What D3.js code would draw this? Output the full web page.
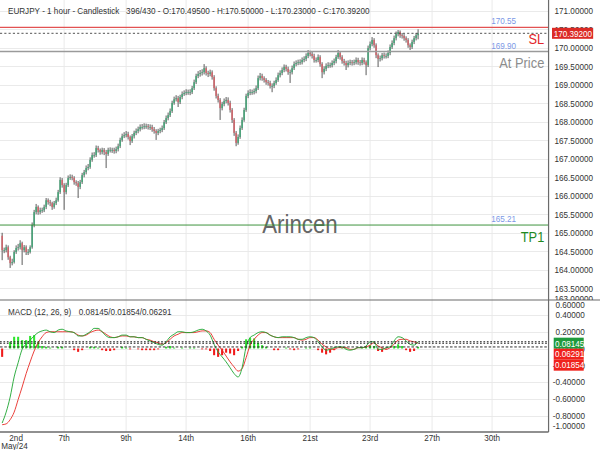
<!DOCTYPE html>
<html>
<head>
<meta charset="utf-8">
<script src="https://cdn.jsdelivr.net/npm/d3@7"></script>
<style>
  body { margin: 0; background: #fff; }
  svg { display: block; font-family: "Liberation Sans", Arial, sans-serif; }
</style>
</head>
<body>
<div id="chart"></div>
<script>
// EURJPY candles, one per 2 hours (open = previous close)
var firstOpen = 164.92;
var close = [
  164.53,164.53,164.61,164.34,164.18,164.21,164.48,164.59,164.61,164.72,
  164.53,164.61,164.48,164.48,164.61,165.21,165.56,165.70,165.56,165.61,
  165.61,165.70,165.88,165.83,165.80,165.70,165.80,165.88,166.10,166.43,
  166.29,166.10,166.29,166.48,166.51,166.48,166.37,166.34,166.24,166.37,
  166.56,166.64,166.75,166.78,166.97,167.10,167.10,167.29,167.24,167.18,
  167.24,167.18,167.13,167.24,167.24,167.24,167.21,167.26,167.34,167.51,
  167.61,167.64,167.67,167.59,167.48,167.61,167.70,167.75,167.80,167.86,
  167.86,167.88,167.88,167.86,167.86,167.80,167.75,167.70,167.75,167.78,
  167.83,167.99,168.10,168.18,168.29,168.51,168.61,168.64,168.53,168.67,
  168.75,168.78,168.80,168.80,168.80,168.91,169.07,169.24,169.29,169.32,
  169.34,169.45,169.32,169.29,169.34,169.21,168.91,168.70,168.59,168.37,
  168.48,168.56,168.59,168.51,168.32,168.05,167.70,167.43,167.59,167.83,
  168.05,168.32,168.70,168.78,168.80,168.80,168.83,168.91,169.18,169.24,
  169.18,169.13,169.07,169.05,168.97,168.97,169.05,169.13,169.26,169.32,
  169.40,169.48,169.43,169.34,169.34,169.45,169.56,169.59,169.61,169.61,
  169.67,169.70,169.78,169.86,169.83,169.78,169.67,169.67,169.75,169.56,
  169.34,169.43,169.51,169.53,169.53,169.59,169.64,169.75,169.86,169.75,
  169.64,169.59,169.53,169.59,169.61,169.59,169.61,169.67,169.61,169.59,
  169.67,169.61,169.53,169.99,170.10,170.21,170.07,169.80,169.70,169.72,
  169.80,169.78,169.78,169.86,170.02,170.13,170.26,170.37,170.43,170.34,
  170.32,170.26,170.21,170.07,170.02,170.16,170.26,170.34,170.392
];
var high = [
  165.00,164.60,164.68,164.66,164.38,164.30,164.53,164.66,164.70,164.80,
  164.76,164.67,164.66,164.56,164.66,165.28,165.62,165.78,165.74,165.68,
  165.68,165.76,165.94,165.93,165.89,165.84,165.86,165.95,166.16,166.50,
  166.48,166.34,166.35,166.55,166.58,166.57,166.53,166.42,166.40,166.43,
  166.62,166.70,166.82,166.86,167.04,167.17,167.18,167.36,167.35,167.28,
  167.30,167.29,167.24,167.30,167.31,167.30,167.30,167.33,167.41,167.57,
  167.68,167.72,167.75,167.73,167.63,167.67,167.76,167.82,167.87,167.93,
  167.94,167.96,167.95,167.94,167.93,167.92,167.86,167.80,167.81,167.84,
  167.90,168.05,168.17,168.25,168.36,168.57,168.68,168.72,168.70,168.73,
  168.82,168.85,168.88,168.87,168.88,168.97,169.14,169.30,169.37,169.40,
  169.42,169.56,169.50,169.38,169.41,169.39,169.26,168.96,168.76,168.64,
  168.54,168.63,168.67,168.66,168.57,168.37,168.10,167.75,167.66,167.90,
  168.12,168.38,168.76,168.85,168.88,168.87,168.90,168.98,169.25,169.32,
  169.30,169.23,169.18,169.13,169.11,169.04,169.11,169.20,169.33,169.39,
  169.47,169.55,169.54,169.49,169.41,169.52,169.63,169.66,169.68,169.69,
  169.74,169.77,169.85,169.94,169.92,169.89,169.84,169.74,169.82,169.80,
  169.61,169.50,169.58,169.61,169.60,169.66,169.71,169.81,169.94,169.90,
  169.80,169.70,169.65,169.66,169.68,169.67,169.68,169.74,169.73,169.67,
  169.74,169.73,169.66,170.06,170.17,170.29,170.26,170.12,169.85,169.79,
  169.86,169.87,169.85,169.93,170.09,170.20,170.33,170.44,170.48,170.47,
  170.40,170.37,170.31,170.26,170.12,170.22,170.32,170.40,170.50
];
var low = [
  164.26,164.45,164.47,164.27,164.05,164.12,164.17,164.43,164.52,164.55,
  164.13,164.47,164.40,164.40,164.44,164.57,165.15,165.50,165.49,165.50,
  165.54,165.56,165.64,165.76,165.72,165.62,165.65,165.75,165.84,166.05,
  166.22,165.62,166.04,166.24,166.43,166.42,166.30,166.27,165.94,166.18,
  166.32,166.50,166.58,166.69,166.73,166.92,167.03,167.05,167.17,167.11,
  167.12,167.10,166.75,167.08,167.17,167.16,167.14,167.15,167.20,167.29,
  167.46,167.56,167.58,167.52,167.37,167.43,167.55,167.64,167.69,167.74,
  167.79,167.80,167.81,167.79,167.78,167.73,167.68,167.51,167.64,167.69,
  167.72,167.78,167.94,168.04,168.13,168.24,168.46,168.55,168.40,168.48,
  168.61,168.70,168.72,168.73,168.72,168.75,168.86,169.02,169.18,169.22,
  169.25,169.28,169.25,169.21,169.23,169.14,168.84,168.63,168.52,168.05,
  168.31,168.42,168.50,168.44,168.25,167.97,167.62,167.34,167.38,167.54,
  167.78,168.00,168.27,168.64,168.72,168.73,168.74,168.77,168.86,169.12,
  169.11,169.06,169.00,168.98,168.90,168.80,168.91,169.00,169.08,169.20,
  169.26,169.34,169.36,169.27,169.05,169.28,169.40,169.50,169.53,169.54,
  169.55,169.61,169.64,169.72,169.77,169.71,169.60,169.60,169.61,169.49,
  169.18,169.28,169.37,169.45,169.46,169.47,169.53,169.58,169.70,169.68,
  169.57,169.52,169.40,169.47,169.53,169.52,169.53,169.55,169.54,169.52,
  169.53,169.55,169.26,169.48,169.93,170.04,170.00,169.72,169.48,169.63,
  169.66,169.71,169.71,169.72,169.80,169.97,170.07,170.20,170.31,170.27,
  170.25,170.19,170.14,170.00,169.94,169.97,170.10,170.20,170.23
];

// MACD (12, 26, 9), read every 2nd candle
var macdLine = [
  -0.89,-0.76,-0.58,-0.34,-0.17,-0.01,0.05,0.10,0.15,0.19,
  0.21,0.22,0.20,0.19,0.22,0.23,0.21,0.20,0.19,0.15,
  0.15,0.17,0.20,0.24,0.24,0.20,0.15,0.13,0.13,0.14,
  0.16,0.16,0.14,0.14,0.13,0.13,0.11,0.09,0.07,0.05,
  0.04,0.08,0.14,0.17,0.20,0.20,0.19,0.19,0.20,0.22,
  0.23,0.21,0.16,0.05,-0.04,-0.10,-0.16,-0.23,-0.30,-0.34,
  -0.23,0.02,0.13,0.16,0.19,0.20,0.19,0.16,0.14,0.13,
  0.14,0.14,0.14,0.13,0.11,0.11,0.13,0.14,0.13,0.08,
  0.02,-0.02,-0.01,0.01,0.02,0.02,-0.01,-0.02,-0.01,0.01,
  0.01,0.03,0.08,0.08,-0.01,-0.01,0.01,0.02,0.09,0.14,
  0.13,0.09,0.05,0.04,0.08145
];
var signalLine = [
  -0.91,-0.90,-0.85,-0.76,-0.61,-0.46,-0.30,-0.16,-0.03,0.07,
  0.14,0.19,0.20,0.20,0.20,0.20,0.20,0.20,0.19,0.16,
  0.15,0.16,0.19,0.21,0.22,0.20,0.17,0.14,0.13,0.14,
  0.15,0.15,0.14,0.14,0.13,0.13,0.11,0.10,0.08,0.07,
  0.05,0.07,0.11,0.15,0.17,0.19,0.19,0.19,0.19,0.20,
  0.21,0.21,0.19,0.11,0.04,-0.02,-0.09,-0.16,-0.22,-0.27,
  -0.24,-0.11,0.04,0.11,0.16,0.19,0.19,0.16,0.14,0.13,
  0.13,0.13,0.13,0.13,0.11,0.10,0.11,0.13,0.13,0.10,
  0.05,0.02,-0.01,-0.01,0.01,0.01,0.01,-0.01,-0.01,0.01,
  0.01,0.02,0.04,0.07,0.03,0.01,-0.01,0.01,0.05,0.10,
  0.11,0.11,0.09,0.08,0.06291
];
var histogram = [
  -0.10,0,0.08,0.14,0.14,0.10,0.10,0.15,0.16,0.08,
  0.03,0.02,0.01,0,0.02,0.02,0,0,-0.02,-0.04,
  -0.02,0,0.02,0.02,0.01,-0.02,-0.03,-0.03,-0.02,0,
  0.02,0.01,-0.01,0,-0.01,-0.02,-0.02,-0.02,-0.02,-0.01,
  0,0.02,0.03,0.01,0,0.01,0,0.01,0.01,0,
  -0.01,-0.01,-0.03,-0.08,-0.10,-0.08,-0.05,-0.06,-0.08,-0.03,
  0.02,0.11,0.13,0.12,0.07,0.04,0.02,0,-0.02,-0.02,
  0,0.01,-0.01,-0.02,-0.01,0,0.01,0.01,0,-0.02,
  -0.05,-0.07,-0.05,-0.02,0,0.01,0.01,0,0,0,
  0.01,0.02,0.04,0.03,-0.03,-0.04,-0.01,0,0.03,0.05,
  0.03,-0.02,-0.04,-0.03,0.01854
];
var macdValues = { macd: 0.08145, hist: 0.01854, signal: 0.06291 };

// levels
var levels = [
  { name: "SL", value: 170.55, color: "#e25252", text: "#e3262b", width: 1.2 },
  { name: "At Price", value: 169.90, color: "#9a9a9a", text: "#8c8c8c", width: 1.5 },
  { name: "TP1", value: 165.21, color: "#2f8a2f", text: "#1f8a1f", width: 1 }
];

// axes
var priceTicks = [163.0,163.5,164.0,164.5,165.0,165.5,166.0,166.5,167.0,167.5,168.0,168.5,169.0,169.5,170.0,170.5,171.0];
var macdTicks = [-1.0,-0.8,-0.6,-0.4,-0.2,0.0,0.2,0.4,0.6];
var dateLabels = ["2nd","7th","9th","14th","16th","21st","23rd","27th","30th"];
var dateBars = [7, 31, 62, 92, 123, 154, 184, 215, 245];

var title = "EURJPY - 1 hour - Candlestick   396/430 - O:170.49500 - H:170.50000 - L:170.23000 - C:170.39200";

// the original is drawn 700 wide and squeezed to 600
var W = 700, H = 450;
var plotRight = 640, priceBottom = 300, macdTop = 300, macdBottom = 432;

var svg = d3.select("#chart").append("svg")
    .attr("width", 600)
    .attr("height", 450)
    .attr("viewBox", "0 0 " + W + " " + H)
    .attr("preserveAspectRatio", "none");

var x = d3.scaleLinear().domain([0, 273]).range([2.5, 2.5 + 273 * 2.333]);
var y = d3.scaleLinear().domain([163.184, 171.292]).range([priceBottom, 0]);
var ym = d3.scaleLinear().domain([-1, 0.6]).range([432.25, 298.25]);

svg.append("defs").append("clipPath").attr("id", "priceClip")
  .append("rect").attr("x", 0).attr("y", 0).attr("width", W).attr("height", priceBottom);

// grid
var grid = svg.append("g")
    .attr("stroke", "#e8e8e8")
    .attr("shape-rendering", "crispEdges");

grid.selectAll(".hp")
  .data(priceTicks.filter(function(t) { return y(t) > 2 && y(t) < priceBottom - 2; }))
  .enter().append("line")
    .attr("x1", 0).attr("x2", plotRight)
    .attr("y1", function(d) { return Math.round(y(d)) + 0.5; })
    .attr("y2", function(d) { return Math.round(y(d)) + 0.5; });

grid.selectAll(".hm")
  .data(macdTicks.filter(function(t) { return ym(t) > macdTop + 2 && ym(t) < macdBottom - 2; }))
  .enter().append("line")
    .attr("x1", 0).attr("x2", plotRight)
    .attr("y1", function(d) { return Math.round(ym(d)) + 0.5; })
    .attr("y2", function(d) { return Math.round(ym(d)) + 0.5; });

grid.selectAll(".v")
  .data(dateBars.slice(1))
  .enter().append("line")
    .attr("x1", function(d) { return x(d); })
    .attr("x2", function(d) { return x(d); })
    .attr("y1", 0).attr("y2", macdBottom);

// watermark
svg.append("text")
    .attr("x", 350).attr("y", 233)
    .attr("text-anchor", "middle")
    .attr("font-size", 26)
    .attr("fill", "#666")
    .text("Arincen");

// candles
var candles = svg.append("g").attr("clip-path", "url(#priceClip)");
var bars = close.map(function(c, i) {
  return { i: i, o: i ? close[i - 1] : firstOpen, c: c, h: high[i], l: low[i] };
});

candles.selectAll(".wick")
  .data(bars)
  .enter().append("line")
    .attr("x1", function(d) { return x(d.i); })
    .attr("x2", function(d) { return x(d.i); })
    .attr("y1", function(d) { return y(d.h); })
    .attr("y2", function(d) { return y(d.l); })
    .attr("stroke", "#3a3a3a")
    .attr("stroke-width", 0.9);

candles.selectAll(".body")
  .data(bars)
  .enter().append("rect")
    .attr("x", function(d) { return x(d.i) - 0.9; })
    .attr("width", 1.8)
    .attr("y", function(d) { return y(Math.max(d.o, d.c)); })
    .attr("height", function(d) { return Math.max(0.8, Math.abs(y(d.o) - y(d.c))); })
    .attr("fill", function(d) { return d.c >= d.o ? "#46a478" : "#d0646a"; });

// level lines
var lv = svg.append("g");
levels.forEach(function(l) {
  lv.append("line")
    .attr("x1", 0).attr("x2", plotRight)
    .attr("y1", y(l.value)).attr("y2", y(l.value))
    .attr("stroke", l.color)
    .attr("stroke-width", l.width);
  lv.append("text")
    .attr("x", 573).attr("y", y(l.value) - 3)
    .attr("font-size", 9.5)
    .attr("fill", "#7b98e6")
    .text(l.value.toFixed(2));
  lv.append("text")
    .attr("x", 635).attr("y", y(l.value) + 16.5)
    .attr("text-anchor", "end")
    .attr("font-size", 15)
    .attr("fill", l.text)
    .text(l.name);
});

var lastClose = close[close.length - 1];
svg.append("line")
    .attr("x1", 0).attr("x2", plotRight)
    .attr("y1", y(lastClose)).attr("y2", y(lastClose))
    .attr("stroke", "#444")
    .attr("stroke-dasharray", "2.5,2.5");

// MACD panel
var mIdx = function(j) { return j * 2; };
var zeroY = ym(0);

svg.append("g").selectAll("rect")
  .data(histogram)
  .enter().append("rect")
    .attr("x", function(d, j) { return x(mIdx(j)) - 1.2; })
    .attr("width", 2.4)
    .attr("y", function(d) { return d >= 0 ? ym(d) : zeroY; })
    .attr("height", function(d) { return Math.abs(ym(d) - zeroY); })
    .attr("fill", function(d) { return d >= 0 ? "#2ee62e" : "#f01a1a"; });

var line = d3.line()
    .x(function(d, j) { return x(mIdx(j)); })
    .y(function(d) { return ym(d); })
    .curve(d3.curveMonotoneX);

svg.append("path")
    .attr("d", line(signalLine))
    .attr("fill", "none")
    .attr("stroke", "#e8312b")
    .attr("stroke-width", 1);

svg.append("path")
    .attr("d", line(macdLine))
    .attr("fill", "none")
    .attr("stroke", "#23a836")
    .attr("stroke-width", 1);

[macdValues.macd, macdValues.signal].forEach(function(v) {
  svg.append("line")
    .attr("x1", 0).attr("x2", plotRight)
    .attr("y1", ym(v)).attr("y2", ym(v))
    .attr("stroke", "#222")
    .attr("stroke-width", 1.1)
    .attr("stroke-dasharray", "2,2");
});
svg.append("line")
    .attr("x1", 0).attr("x2", plotRight)
    .attr("y1", ym(macdValues.hist)).attr("y2", ym(macdValues.hist))
    .attr("stroke", "#222")
    .attr("stroke-width", 1)
    .attr("stroke-dasharray", "3,2");

// frame
svg.append("line").attr("x1", plotRight).attr("x2", plotRight).attr("y1", 0).attr("y2", macdBottom)
    .attr("stroke", "#6b6b6b").attr("stroke-width", 1.4);
svg.append("line").attr("x1", 0).attr("x2", W).attr("y1", macdTop).attr("y2", macdTop)
    .attr("stroke", "#6b6b6b").attr("stroke-width", 1.2);
svg.append("line").attr("x1", 0).attr("x2", plotRight).attr("y1", macdBottom).attr("y2", macdBottom)
    .attr("stroke", "#6b6b6b").attr("stroke-width", 1.4);

// price axis labels
svg.append("g").attr("clip-path", "url(#priceClip)")
  .selectAll("text")
  .data(priceTicks)
  .enter().append("text")
    .attr("x", 647)
    .attr("y", function(d) { return Math.min(y(d), 299); })
    .attr("dy", "0.35em")
    .attr("font-size", 9.5)
    .attr("fill", "#333")
    .text(function(d) { return d.toFixed(5); });

svg.append("g").selectAll("text")
  .data(macdTicks)
  .enter().append("text")
    .attr("x", function(d) { return d < 0 ? 645 : 648; })
    .attr("y", function(d) { return Math.max(macdTop + 5, Math.min(ym(d), macdBottom - 6)); })
    .attr("dy", "0.35em")
    .attr("font-size", 9.5)
    .attr("fill", "#333")
    .text(function(d) { return d.toFixed(5); });

// last price tag
svg.append("rect")
    .attr("x", 644).attr("y", y(lastClose) - 5.5)
    .attr("width", 48).attr("height", 11)
    .attr("fill", "#dc2a26");
svg.append("text")
    .attr("x", 646).attr("y", y(lastClose))
    .attr("dy", "0.35em")
    .attr("font-size", 9.5)
    .attr("fill", "#fff")
    .text(lastClose.toFixed(5));

// MACD value tags, stacked so they don't overlap
var tags = [
  { v: macdValues.macd, c: "#1f9a3c" },
  { v: macdValues.signal, c: "#f0221c" },
  { v: macdValues.hist, c: "#f0221c" }
];
var prev = -100;
tags.forEach(function(t) {
  var cy = Math.max(ym(t.v) + 1.5, prev + 11);
  prev = cy;
  svg.append("rect")
    .attr("x", 646).attr("y", cy - 5.5)
    .attr("width", 35).attr("height", 11)
    .attr("fill", t.c);
  svg.append("text")
    .attr("x", 647.5).attr("y", cy)
    .attr("dy", "0.35em")
    .attr("font-size", 9.5)
    .attr("fill", "#fff")
    .text(t.v.toFixed(5));
});

// date axis
svg.append("g").selectAll("text")
  .data(dateLabels)
  .enter().append("text")
    .attr("x", function(d, k) { return x(dateBars[k]); })
    .attr("y", 441)
    .attr("text-anchor", "middle")
    .attr("font-size", 9.5)
    .attr("fill", "#333")
    .text(function(d) { return d; });
svg.append("text")
    .attr("x", 17).attr("y", 449)
    .attr("text-anchor", "middle")
    .attr("font-size", 9.5)
    .attr("fill", "#333")
    .text("May/24");

// titles
svg.append("text")
    .attr("x", 9.3).attr("y", 14)
    .attr("font-size", 9.5)
    .attr("fill", "#333")
    .attr("xml:space", "preserve")
    .style("white-space", "pre")
    .text(title);
svg.append("text")
    .attr("x", 9.3).attr("y", 315)
    .attr("font-size", 9.5)
    .attr("fill", "#333")
    .text("MACD (12, 26, 9)");
svg.append("text")
    .attr("x", 92).attr("y", 315)
    .attr("font-size", 9.5)
    .attr("fill", "#333")
    .text(macdValues.macd.toFixed(5) + "/" + macdValues.hist.toFixed(5) + "/" + macdValues.signal.toFixed(5));
</script>
</body>
</html>
